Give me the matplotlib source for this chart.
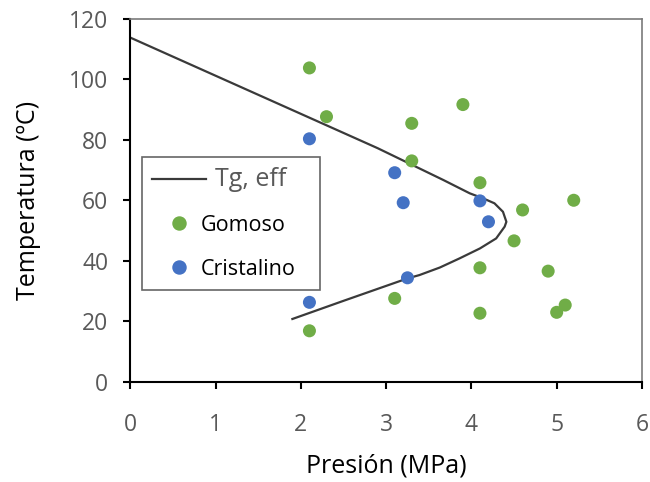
import matplotlib
matplotlib.use("Agg")
import matplotlib.pyplot as plt
from matplotlib.lines import Line2D

plt.rcParams['font.family'] = ['Open Sans', 'DejaVu Sans']

# Tg,eff curve (pressure MPa, temperature ºC)
tg_p = [0.0, 2.9, 3.67, 3.98, 4.14, 4.27, 4.37, 4.41, 4.39, 4.29, 4.10, 3.86, 3.63, 3.39, 3.25, 2.5, 1.9]
tg_t = [113.7, 77.2, 66.7, 62.3, 60.6, 59.0, 56.2, 52.9, 51.3, 47.4, 44.1, 40.8, 37.8, 35.3, 34.2, 26.8, 20.8]

# rubbery samples
gom_p = [2.1, 2.3, 3.3, 3.9, 3.3, 4.1, 4.6, 5.2, 4.5, 4.1, 4.9, 3.1, 5.1, 5.0, 4.1, 2.1]
gom_t = [103.7, 87.6, 85.4, 91.6, 73.0, 65.8, 56.8, 60.0, 46.6, 37.7, 36.6, 27.6, 25.4, 23.0, 22.7, 16.9]

# crystalline samples
cri_p = [2.1, 3.1, 3.2, 4.1, 4.2, 3.25, 2.1]
cri_t = [80.3, 69.1, 59.2, 59.8, 52.9, 34.4, 26.3]

verde = '#70AD47'
azul = '#4472C4'
gris = '#595959'

fig = plt.figure(figsize=(6.5, 4.82), dpi=100)
ax = fig.add_axes([0.2006, 0.2075, 0.787, 0.754])

ax.plot(tg_p, tg_t, color='#3a3a3a', lw=1.6, zorder=2)
ax.scatter(gom_p, gom_t, s=88, color=verde, edgecolors='none', zorder=3)
ax.scatter(cri_p, cri_t, s=88, color=azul, edgecolors='none', zorder=3)

ax.set_xlim(0, 6)
ax.set_ylim(0, 120)
ax.set_xticks(range(0, 7))
ax.set_yticks(range(0, 121, 20))

for s in ['left', 'bottom']:
    ax.spines[s].set_color('black')
    ax.spines[s].set_linewidth(1.5)
for s in ['top', 'right']:
    ax.spines[s].set_color('#7a7a7a')
    ax.spines[s].set_linewidth(1.2)

ax.tick_params(direction='out', length=5, width=1.5, color='black',
               labelsize=16.5, labelcolor=gris)
ax.tick_params(axis='y', pad=11)
ax.tick_params(axis='x', pad=17)

ax.set_xlabel('Presión (MPa)', fontsize=18, labelpad=12)
ax.set_ylabel('Temperatura (ºC)', fontsize=18, labelpad=20)

handles = [
    Line2D([], [], color='#3a3a3a', lw=1.6),
    Line2D([], [], ls='none', marker='o', ms=9.4, color=verde),
    Line2D([], [], ls='none', marker='o', ms=9.4, color=azul),
]
leg = ax.legend(handles, ['Tg, eff', 'Gomoso', 'Cristalino'],
                loc='upper left', bbox_to_anchor=(0.022, 0.62),
                fontsize=15.5, frameon=True, fancybox=False,
                handlelength=2.5, handletextpad=0.4, labelspacing=1.05,
                borderpad=0.5, borderaxespad=0)
leg.get_frame().set_edgecolor('#404040')
leg.get_frame().set_linewidth(1.2)
textos = leg.get_texts()
textos[0].set_fontsize(18)
textos[0].set_color(gris)
# marker rows sit closer to their labels
textos[1].set_x(-14)
textos[2].set_x(-14)

fig.savefig('out.png', dpi=100)
